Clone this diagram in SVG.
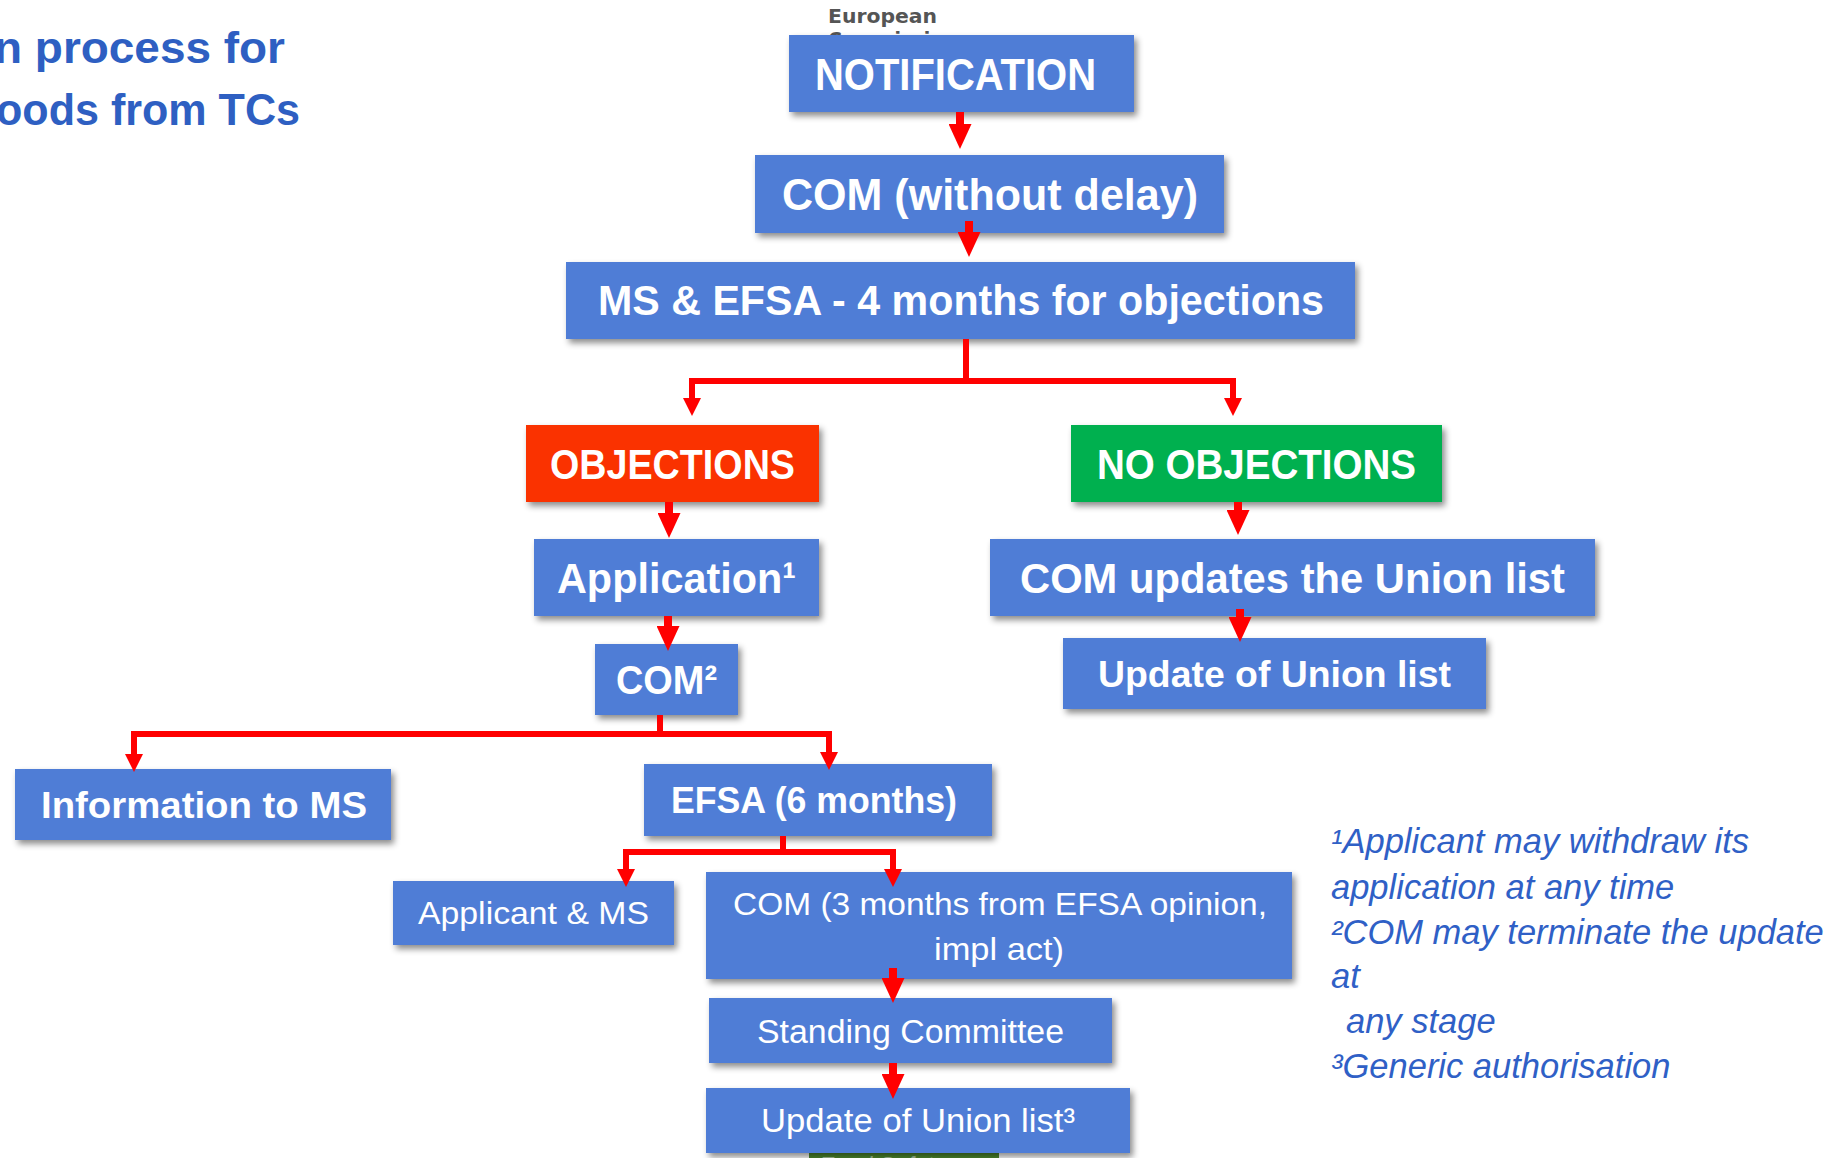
<svg xmlns="http://www.w3.org/2000/svg" width="1832" height="1158" viewBox="0 0 1832 1158">
<style>
.box{fill:#4F7DD6;filter:url(#sh)}
.lb{font-family:"Liberation Sans",Arial,sans-serif;font-weight:bold;fill:#fff}
.lr{font-family:"Liberation Sans",Arial,sans-serif;fill:#fff}
.title{font-family:"Liberation Sans",Arial,sans-serif;font-weight:bold;fill:#2E5FC2;font-size:44px}
.note{font-family:"Liberation Sans",Arial,sans-serif;font-style:italic;fill:#2F60C6;font-size:34.5px}
.ln{fill:none;stroke:#FF0000;stroke-width:6}
.ln2{fill:none;stroke:#FF0000;stroke-width:8}
</style>
<defs>
<filter id="sh" x="-10%" y="-20%" width="125%" height="150%">
<feDropShadow dx="3" dy="4" stdDeviation="3" flood-color="#000" flood-opacity="0.45"/>
</filter>
<marker id="ah" markerUnits="userSpaceOnUse" markerWidth="25" markerHeight="23" viewBox="0 0 25 23" refX="1" refY="11.5" orient="auto">
<path d="M0,0 L25,11.5 L0,23 Z" fill="#FF0000"/>
</marker>
<marker id="as" markerUnits="userSpaceOnUse" markerWidth="18" markerHeight="18" viewBox="0 0 18 18" refX="1" refY="9" orient="auto">
<path d="M0,0 L18,9 L0,18 Z" fill="#FF0000"/>
</marker>
</defs>
<rect width="1832" height="1158" fill="#fff"/>

<g id="title">
<text class="title" x="-6" y="63" textLength="291" lengthAdjust="spacingAndGlyphs">n process for</text>
<text class="title" x="-4" y="125" textLength="304" lengthAdjust="spacingAndGlyphs">oods from TCs</text>
</g>

<g id="logo-top">
<text x="828" y="23" font-family="DejaVu Sans,sans-serif" font-weight="bold" font-size="19" fill="#555" textLength="109" lengthAdjust="spacingAndGlyphs">European</text>
<text x="828" y="46" font-family="DejaVu Sans,sans-serif" font-weight="bold" font-size="19" fill="#555">Commission</text>
</g>
<g id="logo-bottom">
<rect x="809" y="1140" width="190" height="30" fill="#4E8A2E"/>
<text x="819" y="1176" font-family="Liberation Sans,sans-serif" font-style="italic" font-size="28" fill="#A8C49A" textLength="126" lengthAdjust="spacingAndGlyphs">Food Safety</text>
</g>

<g id="n-notification"><rect class="box" x="789" y="35" width="345" height="77"/><text class="lb" x="815" y="90" font-size="45" textLength="281" lengthAdjust="spacingAndGlyphs">NOTIFICATION</text></g>
<g id="n-com"><rect class="box" x="755" y="155" width="469" height="78"/><text class="lb" x="782" y="210" font-size="45" textLength="416" lengthAdjust="spacingAndGlyphs">COM (without delay)</text></g>
<g id="n-ms-efsa"><rect class="box" x="566" y="262" width="789" height="77"/><text class="lb" x="598" y="315" font-size="43" textLength="726" lengthAdjust="spacingAndGlyphs">MS &amp; EFSA - 4 months for objections</text></g>
<g id="n-objections"><rect x="526" y="425" width="293" height="77" fill="#FA3100" filter="url(#sh)"/><text class="lb" x="550" y="479" font-size="43" textLength="245" lengthAdjust="spacingAndGlyphs">OBJECTIONS</text></g>
<g id="n-no-objections"><rect x="1071" y="425" width="371" height="77" fill="#00B050" filter="url(#sh)"/><text class="lb" x="1097" y="479" font-size="43" textLength="319" lengthAdjust="spacingAndGlyphs">NO OBJECTIONS</text></g>
<g id="n-application"><rect class="box" x="534" y="539" width="285" height="77"/><text class="lb" x="557" y="593" font-size="43" textLength="239" lengthAdjust="spacingAndGlyphs">Application¹</text></g>
<g id="n-com2"><rect class="box" x="595" y="644" width="143" height="71"/><text class="lb" x="616" y="694" font-size="40" textLength="101" lengthAdjust="spacingAndGlyphs">COM²</text></g>
<g id="n-com-updates"><rect class="box" x="990" y="539" width="605" height="77"/><text class="lb" x="1020" y="593" font-size="43" textLength="545" lengthAdjust="spacingAndGlyphs">COM updates the Union list</text></g>
<g id="n-update-union"><rect class="box" x="1063" y="638" width="423" height="71"/><text class="lb" x="1098" y="687" font-size="36" textLength="353" lengthAdjust="spacingAndGlyphs">Update of Union list</text></g>
<g id="n-info-ms"><rect class="box" x="15" y="769" width="376" height="71"/><text class="lb" x="41" y="818" font-size="36" textLength="326" lengthAdjust="spacingAndGlyphs">Information to MS</text></g>
<g id="n-efsa6"><rect class="box" x="644" y="764" width="348" height="72"/><text class="lb" x="671" y="813" font-size="36" textLength="286" lengthAdjust="spacingAndGlyphs">EFSA (6 months)</text></g>
<g id="n-applicant-ms"><rect class="box" x="393" y="881" width="281" height="64"/><text class="lr" x="418" y="924" font-size="32" textLength="231" lengthAdjust="spacingAndGlyphs">Applicant &amp; MS</text></g>
<g id="n-com3"><rect class="box" x="706" y="872" width="586" height="107"/><text class="lr" x="733" y="915" font-size="32" textLength="534" lengthAdjust="spacingAndGlyphs">COM (3 months from EFSA opinion,</text><text class="lr" x="934" y="960" font-size="32" textLength="130" lengthAdjust="spacingAndGlyphs">impl act)</text></g>
<g id="n-standing"><rect class="box" x="709" y="998" width="403" height="65"/><text class="lr" x="757" y="1043" font-size="33" textLength="307" lengthAdjust="spacingAndGlyphs">Standing Committee</text></g>
<g id="n-update-union3"><rect class="box" x="706" y="1088" width="424" height="65"/><text class="lr" x="761" y="1132" font-size="33" textLength="314" lengthAdjust="spacingAndGlyphs">Update of Union list³</text></g>

<g id="notes">
<text class="note" x="1331" y="853">¹Applicant may withdraw its</text>
<text class="note" x="1331" y="899">application at any time</text>
<text class="note" x="1331" y="944">²COM may terminate the update</text>
<text class="note" x="1331" y="988">at</text>
<text class="note" x="1346" y="1033">any stage</text>
<text class="note" x="1331" y="1078">³Generic authorisation</text>
</g>

<g id="connectors">
<path class="ln2" d="M960,112 V125" marker-end="url(#ah)"/>
<path class="ln2" d="M969,221 V233" marker-end="url(#ah)"/>
<path class="ln" d="M966,339 V381 M692,381 H1233"/>
<path class="ln" d="M692,378 V399" marker-end="url(#as)"/>
<path class="ln" d="M1233,378 V399" marker-end="url(#as)"/>
<path class="ln2" d="M669,502 V514" marker-end="url(#ah)"/>
<path class="ln2" d="M668,616 V627" marker-end="url(#ah)"/>
<path class="ln" d="M660,715 V734 M134,734 H829"/>
<path class="ln" d="M134,731 V755" marker-end="url(#as)"/>
<path class="ln" d="M829,731 V753" marker-end="url(#as)"/>
<path class="ln2" d="M1238,502 V511" marker-end="url(#ah)"/>
<path class="ln2" d="M1240,609 V618" marker-end="url(#ah)"/>
<path class="ln" d="M783,836 V852 M626,852 H893"/>
<path class="ln" d="M626,849 V870" marker-end="url(#as)"/>
<path class="ln" d="M893,849 V870" marker-end="url(#as)"/>
<path class="ln2" d="M893,968 V979" marker-end="url(#ah)"/>
<path class="ln2" d="M893,1063 V1075" marker-end="url(#ah)"/>
</g>
</svg>
